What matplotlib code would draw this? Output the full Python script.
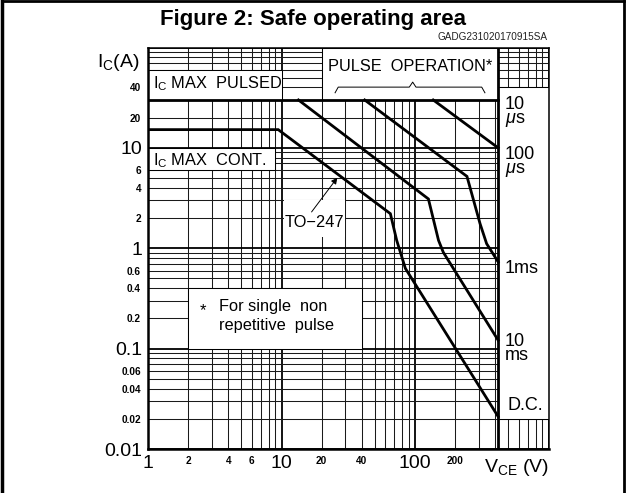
import numpy as np
import matplotlib.pyplot as plt
from matplotlib.patches import Rectangle
from matplotlib.lines import Line2D

# V_CE (V) / I_C (A), one pair of lists per SOA limit
vce_10us = [1, 420]
ic_10us = [30, 30]
vce_100us = [137, 420]
ic_100us = [30, 10]
vce_1ms = [42, 245, 307, 344, 420]
ic_1ms = [30, 5.2, 1.76, 1.11, 0.73]
vce_10ms = [13.4, 126, 150, 163, 420]
ic_10ms = [30, 3.1, 1.2, 0.91, 0.121]
vce_dc = [1, 9.45, 65.4, 72.9, 84.7, 420]
ic_dc = [15.2, 15.2, 2.21, 1.2, 0.63, 0.021]

vce_max = 420

# axis labels
y_major = [0.01, 0.1, 1, 10, 100]
y_major_labels = ['0.01', '0.1', '1', '10', '']
y_small = [0.02, 0.04, 0.06, 0.2, 0.4, 0.6, 2, 4, 6, 20, 40]
x_major = [1, 10, 100, 1000]
x_major_labels = ['1', '10', '100', '']
x_small = [2, 4, 6, 20, 40, 200]

limit_names = ['10\n$\\mu$s', '100\n$\\mu$s', '1ms', '10\nms', 'D.C.']
limit_label_ic = [22.5, 7.2, 0.63, 0.1, 0.027]

plt.rcParams['font.family'] = ['Liberation Sans', 'DejaVu Sans']
plt.rcParams['mathtext.fontset'] = 'custom'
plt.rcParams['mathtext.rm'] = 'Liberation Sans'
plt.rcParams['mathtext.it'] = 'Liberation Sans:italic'

fig = plt.figure(figsize=(6.27, 4.93), dpi=100)
ax = fig.add_axes([148 / 627, 44 / 493, 400.5 / 627, 401.5 / 493])
ax.set_xscale('log')
ax.set_yscale('log')
ax.set_xlim(1, 1000)
ax.set_ylim(0.01, 100)


def minor_grid(lo, hi):
    vals = []
    for e in range(int(np.log10(lo)), int(np.log10(hi))):
        for k in range(2, 10):
            vals.append(round(k * 10.0 ** e, 6))
    return vals


x_minor = minor_grid(1, 1000)
y_minor = minor_grid(0.01, 100)
ax.set_xticks(x_major, x_major_labels)
ax.set_xticks(x_minor, [str(int(v)) if v in x_small else '' for v in x_minor], minor=True)
ax.set_yticks(y_major, y_major_labels)
ax.set_yticks(y_minor, [('%g' % v) if any(np.isclose(v, y_small)) else '' for v in y_minor], minor=True)
ax.tick_params(which='both', length=0)
ax.tick_params(which='major', labelsize=14, pad=4)
ax.tick_params(which='minor', labelsize=7.2, pad=5)
for t in ax.get_xticklabels(minor=True) + ax.get_yticklabels(minor=True):
    t.set_fontweight('bold')

ax.grid(which='major', color='black', lw=1.3, zorder=0)
ax.grid(which='minor', color='#1a1a1a', lw=0.75, zorder=0)
ax.set_axisbelow(True)
for s in ['left', 'bottom']:
    ax.spines[s].set_linewidth(1.8)
for s in ['top', 'right']:
    ax.spines[s].set_linewidth(1.1)

# white label panels covering the grid
boxes = [
    (1, 30, 10, 60),      # Ic max pulsed
    (1, 6, 9, 10),        # Ic max cont.
    (20, 30, vce_max, 100),  # pulse operation
    (vce_max, 0.02, 1000, 40),  # right-hand column of limit names
    (2, 0.1, 40, 0.4),    # footnote
]
for x0, y0, x1, y1 in boxes:
    ax.add_patch(Rectangle((x0, y0), x1 - x0, y1 - y0, facecolor='white',
                           edgecolor='black', lw=0.75, zorder=2))
ax.add_patch(Rectangle((10.5, 1.3), 19.5, 1.7, facecolor='white',
                       edgecolor='none', zorder=2))

ax.axvline(vce_max, color='black', lw=2.0, zorder=3)

kw = dict(color='black', lw=2.0, zorder=4, solid_joinstyle='miter')
ax.plot(vce_10us, ic_10us, **kw)
ax.plot(vce_100us, ic_100us, **kw)
ax.plot(vce_1ms, ic_1ms, **kw)
ax.plot(vce_10ms, ic_10ms, **kw)
ax.plot(vce_dc, ic_dc, **kw)

txt = dict(color='black', zorder=5)
ax.text(1.09, 43.5, '$\\mathrm{I_C}$ MAX  PULSED', fontsize=11.8, va='center', **txt)
ax.text(1.09, 7.5, '$\\mathrm{I_C}$ MAX  CONT.', fontsize=11.8, va='center', **txt)
ax.text(92, 64, 'PULSE  OPERATION*', fontsize=11.8, ha='center', va='center', **txt)
ax.plot([25.2, 26.6, 90.6, 96.1, 101.7, 316, 334],
        [35.4, 40.3, 40.3, 45.2, 40.3, 40.3, 35.4], color='black', lw=0.7, zorder=5)

ax.text(17.7, 1.8, 'TO\u2212247', fontsize=11.8, ha='center', va='center', **txt)
ax.annotate('', xy=(26.2, 5.05), xytext=(16.8, 2.3),
            arrowprops=dict(arrowstyle='-|>', lw=0.7, color='black',
                            mutation_scale=9, shrinkA=0, shrinkB=0), zorder=5)

ax.text(2.45, 0.24, '*', fontsize=12, ha='left', va='center', **txt)
ax.text(3.4, 0.21, 'For single  non\nrepetitive  pulse', fontsize=11.8,
        ha='left', va='center', linespacing=1.35, **txt)

for name, yv in zip(limit_names, limit_label_ic):
    ax.text(490 if name == 'D.C.' else 470, yv, name, fontsize=13, ha='left',
            va='center', linespacing=0.78, **txt)

ax.text(0.87, 71, '$\\mathrm{I_C}$(A)', fontsize=14, ha='right', va='center',
        clip_on=False, **txt)
ax.text(1000, 0.0066, '$\\mathrm{V_{CE}}$ (V)', fontsize=14, ha='right', va='center',
        clip_on=False, **txt)

fig.text(313.5 / 627, 1 - 20 / 493, 'Figure 2: Safe operating area', fontsize=16,
         fontweight='bold', ha='center', va='center')
fig.text(547 / 627, 1 - 37.5 / 493, 'GADG231020170915SA', fontsize=7.2, ha='right',
         va='center', color='#222222')

# outer frame (open at the bottom like the source image)
for xs, ys, lw in [([1.5, 1.5], [-5, 1.2], 2.5), ([1.5, 623.5], [1.2, 1.2], 2.0),
                   ([623.5, 623.5], [1.2, -5], 2.0)]:
    fig.add_artist(Line2D([x / 627 for x in xs], [1 - y / 493 if y > 0 else 0 for y in ys],
                          color='black', lw=lw))

fig.savefig('out.png', dpi=100, facecolor='white')
